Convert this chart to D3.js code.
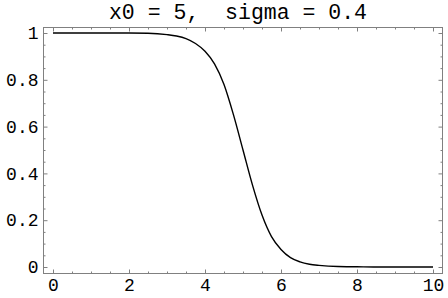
<!DOCTYPE html>
<html>
<head>
<meta charset="utf-8">
<script src="https://cdn.jsdelivr.net/npm/d3@7"></script>
<style>
  body { margin: 0; background: #fff; }
  .tick text { font-family: "Liberation Mono", "DejaVu Sans Mono", monospace; font-size: 18px; fill: #000; }
  .tick line { stroke: #808080; }
</style>
</head>
<body>
<svg id="chart" width="448" height="298"></svg>
<script>
// values
var xs = [0, 0.5, 1, 1.5, 2, 2.5, 3, 3.25, 3.5, 3.75, 4, 4.25, 4.5, 4.75, 5,
  5.25, 5.5, 5.75, 6, 6.25, 6.5, 6.75, 7, 7.5, 8, 8.5, 9, 9.5, 10];
var ys = [1, 1, 1, 1, 1, 0.999, 0.993, 0.987, 0.976, 0.955, 0.922, 0.868, 0.78, 0.65, 0.5,
  0.35, 0.222, 0.13, 0.075, 0.04, 0.022, 0.012, 0.007, 0.002, 0.001, 0, 0, 0, 0];
var xTicks = [0, 2, 4, 6, 8, 10];
var xMinor = [0.5, 1, 1.5, 2.5, 3, 3.5, 4.5, 5, 5.5, 6.5, 7, 7.5, 8.5, 9, 9.5];
var yTicks = [0, 0.2, 0.4, 0.6, 0.8, 1];
var yTickLabels = ["0", "0.2", "0.4", "0.6", "0.8", "1"];
var yMinor = [0.05, 0.1, 0.15, 0.25, 0.3, 0.35, 0.45, 0.5, 0.55, 0.65, 0.7, 0.75, 0.85, 0.9, 0.95];
var title = "x0 = 5,  sigma = 0.4";

var svg = d3.select("#chart");
var frame = {left: 43, right: 442, top: 27, bottom: 273};

var x = d3.scaleLinear().domain([0, 10]).range([53, 433]);
var y = d3.scaleLinear().domain([0, 1]).range([267, 33]);

// frame
svg.append("rect")
  .attr("x", frame.left + 0.5)
  .attr("y", frame.top + 0.5)
  .attr("width", frame.right - frame.left)
  .attr("height", frame.bottom - frame.top)
  .attr("fill", "none")
  .attr("stroke", "#808080")
  .attr("stroke-width", 1);

function axisGroup(axis, tx, ty) {
  var g = svg.append("g")
    .attr("transform", "translate(" + tx + "," + ty + ")")
    .call(axis);
  g.select(".domain").remove();
  return g;
}

// bottom, with labels
axisGroup(d3.axisBottom(x).tickValues(xTicks).tickSizeInner(-4).tickSizeOuter(0).tickPadding(5)
  .tickFormat(d3.format("d")), 0, frame.bottom + 0.5);
axisGroup(d3.axisBottom(x).tickValues(xMinor).tickSizeInner(-2).tickSizeOuter(0).tickFormat(""), 0, frame.bottom + 0.5);
// top mirror
axisGroup(d3.axisTop(x).tickValues(xTicks).tickSizeInner(-4).tickSizeOuter(0).tickFormat(""), 0, frame.top + 0.5);
axisGroup(d3.axisTop(x).tickValues(xMinor).tickSizeInner(-2).tickSizeOuter(0).tickFormat(""), 0, frame.top + 0.5);

// left, with labels
axisGroup(d3.axisLeft(y).tickValues(yTicks).tickSizeInner(-4).tickSizeOuter(0).tickPadding(5)
  .tickFormat(function(d, i) { return yTickLabels[i]; }), frame.left + 0.5, 0);
axisGroup(d3.axisLeft(y).tickValues(yMinor).tickSizeInner(-2).tickSizeOuter(0).tickFormat(""), frame.left + 0.5, 0);
// right mirror
axisGroup(d3.axisRight(y).tickValues(yTicks).tickSizeInner(-4).tickSizeOuter(0).tickFormat(""), frame.right + 0.5, 0);
axisGroup(d3.axisRight(y).tickValues(yMinor).tickSizeInner(-2).tickSizeOuter(0).tickFormat(""), frame.right + 0.5, 0);

// title
svg.append("text")
  .attr("x", 238)
  .attr("y", 19)
  .attr("text-anchor", "middle")
  .attr("font-family", "Liberation Mono, DejaVu Sans Mono, monospace")
  .attr("font-size", 21.5)
  .attr("xml:space", "preserve")
  .style("white-space", "pre")
  .text(title);

// curve
var line = d3.line()
  .x(function(d, i) { return x(xs[i]); })
  .y(function(d, i) { return y(ys[i]); })
  .curve(d3.curveMonotoneX);

svg.append("path")
  .datum(xs)
  .attr("d", line)
  .attr("fill", "none")
  .attr("stroke", "#000")
  .attr("stroke-width", 1.4);
</script>
</body>
</html>
